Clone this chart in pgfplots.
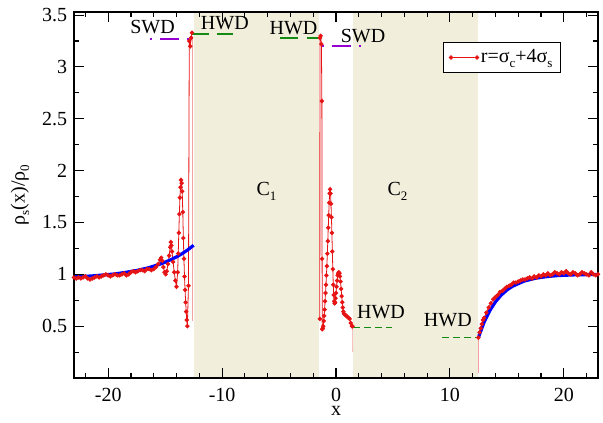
\documentclass[border=0pt]{standalone}
\usepackage{fontspec}
\setmainfont{Liberation Serif}
\usepackage{pgfplots}
\pgfplotsset{compat=1.18}
\definecolor{wall}{RGB}{241,238,219}
\definecolor{dred}{RGB}{230,20,20}
\definecolor{swd}{RGB}{150,0,210}
\definecolor{hwd}{RGB}{20,140,20}
\newcommand\lo[1]{\raisebox{-0.5ex}{\fontsize{13}{13}\selectfont #1}}
\pgfplotsset{legend image code/.code={\draw[#1] plot coordinates {(0pt,0pt) (26pt,0pt)};}}

\begin{document}
\fontsize{20}{24}\selectfont
\begin{tikzpicture}
\begin{axis}[
  scale only axis, width=524pt, height=366pt,
  xmin=-23, xmax=23, ymin=0, ymax=3.53,
  axis on top,
  axis line style={line width=1.3pt},
  every tick/.style={line width=1.1pt, black},
  major tick length=10pt, minor tick length=5pt,
  tick align=inside,
  xtick={-20,-10,0,10,20}, minor xtick={-22,-20,...,22},
  ytick={0.5,1,1.5,2,2.5,3,3.5},
  minor ytick={0.25,0.75,1.25,1.75,2.25,2.75,3.25},
  tick label style={font=\fontsize{20}{24}\selectfont},
  xticklabel style={yshift=-3pt},
  /pgf/number format/assume math mode=true,
  label style={font=\fontsize{20}{24}\selectfont},
  xlabel={x}, ylabel={ρ\lo{s}(x)/ρ\lo{0}},
  every axis x label/.style={at={(axis description cs:0.5,-0.09)}, anchor=center},
  every axis y label/.style={at={(axis description cs:-0.103,0.5)}, rotate=90, anchor=center},
  legend style={at={(0.704,0.918)}, anchor=north west, draw=black,
    line width=0.8pt, font=\fontsize{20}{24}\selectfont,
    inner xsep=6pt, inner ysep=5pt},
]
% confining walls
\addplot[fill=wall, draw=none, forget plot] coordinates {(-12.5,0) (-12.5,3.53) (-1.5,3.53) (-1.5,0)} -- cycle;
\addplot[fill=wall, draw=none, forget plot] coordinates {(1.5,0) (1.5,3.53) (12.5,3.53) (12.5,0)} -- cycle;

% wall-density levels
\addplot[swd, line width=2.4pt, dash pattern=on 2pt off 8pt on 19pt off 8pt, forget plot] coordinates {(-16.3,3.27) (-12.6,3.27)};
\addplot[swd, line width=2.4pt, dash pattern=on 2pt off 8pt on 19pt off 8pt, forget plot] coordinates {(-1.2,3.20) (2.2,3.20)};
\addplot[hwd, line width=2.4pt, dash pattern=on 17pt off 8pt, forget plot] coordinates {(-12.6,3.32) (-9.0,3.32)};
\addplot[hwd, line width=2.4pt, dash pattern=on 18pt off 9pt, forget plot] coordinates {(-4.9,3.28) (-1.6,3.28)};
\addplot[hwd, line width=1.2pt, dash pattern=on 7pt off 4pt, forget plot] coordinates {(1.5,0.49) (4.9,0.49)};
\addplot[hwd, line width=1.2pt, dash pattern=on 7pt off 4pt, forget plot] coordinates {(9.3,0.39) (12.5,0.39)};

% faint ends of the profile at the walls
\addplot[dred!40, line width=0.6pt, forget plot] coordinates {(-12.62,3.3) (-12.62,0.55)};
\addplot[dred!40, line width=0.6pt, forget plot] coordinates {(1.45,0.5) (1.47,0.25)};
\addplot[dred!40, line width=0.6pt, forget plot] coordinates {(12.5,0.39) (12.5,0.05)};

% density profile
\addplot[dred, line width=0.8pt, mark=*, mark size=1.8pt, mark options={fill=dred, draw=dred}]
coordinates {
(-23.0,0.97) (-22.8,0.96) (-22.6,0.97) (-22.4,0.96) (-22.2,0.97) (-22.0,0.98)
(-21.8,0.96) (-21.6,0.95) (-21.4,0.96) (-21.2,0.97) (-21.0,0.98) (-20.8,0.97)
(-20.6,0.98) (-20.4,0.99) (-20.2,1.00) (-20.0,0.99) (-19.8,0.98) (-19.6,0.99)
(-19.4,1.00) (-19.2,0.99) (-19.0,0.99) (-18.8,1.00) (-18.6,1.01) (-18.4,0.99)
(-18.2,1.00) (-18.0,1.02) (-17.8,1.03) (-17.6,1.02) (-17.4,1.03) (-17.2,1.04)
(-17.0,1.04) (-16.8,1.03) (-16.6,1.05) (-16.4,1.05) (-16.2,1.04) (-16.0,1.05)
(-15.8,1.07) (-15.6,1.10) (-15.45,1.14) (-15.35,1.16) (-15.25,1.13) (-15.15,1.07)
(-15.05,1.02) (-14.95,1.00) (-14.85,1.03) (-14.75,1.10) (-14.65,1.18) (-14.55,1.26)
(-14.5,1.31) (-14.45,1.28) (-14.4,1.22) (-14.3,1.12) (-14.2,1.02) (-14.1,0.94)
(-14.0,0.88) (-13.9,1.02) (-13.85,1.20) (-13.8,1.40) (-13.75,1.58) (-13.7,1.74)
(-13.65,1.84) (-13.6,1.91) (-13.55,1.88) (-13.5,1.80) (-13.45,1.60) (-13.4,1.35)
(-13.35,1.15) (-13.3,0.98) (-13.25,0.85) (-13.2,0.73) (-13.15,0.64) (-13.1,0.56)
(-13.05,0.50) (-12.95,0.89) (-12.88,3.25) (-12.8,3.2) (-12.72,3.28) (-12.65,3.33)
};
\addlegendentry{r=σ\lo{c}+4σ\lo{s}}
\addplot[dred, line width=0.8pt, mark=*, mark size=1.8pt, mark options={fill=dred, draw=dred}, forget plot]
coordinates {
(-1.42,0.57) (-1.41,3.28) (-1.35,3.30) (-1.28,3.22) (-1.24,2.67) (-1.22,1.15)
(-1.20,0.47) (-1.16,0.48) (-1.12,0.50) (-1.08,0.55) (-1.04,0.60) (-1.00,0.66)
(-0.96,0.74) (-0.92,0.82) (-0.88,0.90) (-0.84,0.99) (-0.80,1.08) (-0.76,1.20)
(-0.72,1.32) (-0.68,1.45) (-0.64,1.57) (-0.60,1.69) (-0.56,1.78) (-0.52,1.82)
(-0.48,1.78) (-0.44,1.68) (-0.40,1.55) (-0.36,1.40) (-0.32,1.22) (-0.28,1.05)
(-0.24,0.90) (-0.20,0.80) (-0.16,0.74) (-0.12,0.72) (-0.08,0.73) (-0.04,0.77)
(0.00,0.82) (0.05,0.88) (0.10,0.94) (0.15,0.99) (0.20,1.01) (0.25,1.02)
(0.30,1.01) (0.35,0.98) (0.40,0.93) (0.45,0.86) (0.50,0.79) (0.55,0.73)
(0.60,0.68) (0.65,0.64) (0.70,0.62) (0.80,0.61) (0.90,0.60) (1.00,0.59)
(1.10,0.58) (1.20,0.57) (1.30,0.53) (1.40,0.50) (1.45,0.50)
};
\addplot[dred, line width=0.8pt, mark=*, mark size=1.8pt, mark options={fill=dred, draw=dred}, forget plot]
coordinates {
(12.5,0.39) (12.6,0.44) (12.7,0.48) (12.8,0.52) (12.9,0.56) (13.0,0.58)
(13.2,0.63) (13.4,0.68) (13.6,0.72) (13.8,0.76) (14.0,0.78) (14.2,0.80)
(14.4,0.83) (14.6,0.84) (14.8,0.86) (15.0,0.88) (15.2,0.89) (15.4,0.90)
(15.6,0.92) (15.8,0.92) (16.0,0.93) (16.2,0.94) (16.4,0.95) (16.6,0.95)
(16.8,0.96) (17.0,0.97) (17.2,0.96) (17.4,0.98) (17.6,0.97) (17.8,0.99)
(18.0,0.98) (18.2,1.00) (18.4,0.99) (18.6,1.01) (18.8,0.99) (19.0,1.00)
(19.2,1.02) (19.4,1.01) (19.6,1.00) (19.8,1.02) (20.0,1.01) (20.2,1.03)
(20.4,1.01) (20.6,1.00) (20.8,1.02) (21.0,1.01) (21.2,0.99) (21.4,1.00)
(21.6,1.02) (21.8,1.01) (22.0,1.00) (22.2,0.99) (22.4,1.02) (22.6,1.00)
(22.8,0.99) (23.0,1.00)
};

% fits
\addplot[blue, line width=3.2pt, forget plot] coordinates {
(-23,0.976) (-22.5,0.978) (-21.5,0.984) (-20.5,0.993) (-19.5,1.003) (-18.5,1.018)
(-17.5,1.037) (-16.5,1.062) (-15.5,1.096) (-15,1.117) (-14.5,1.141) (-14,1.168)
(-13.5,1.200) (-13,1.237) (-12.5,1.280)
};
\addplot[blue, line width=3.2pt, forget plot] coordinates {
(12.5,0.39) (13,0.538) (13.5,0.650) (14,0.735) (14.5,0.799) (15,0.848)
(15.5,0.885) (16.5,0.934) (17.5,0.962) (18.5,0.978) (19.5,0.988) (21,0.995) (23,0.999)
};

% annotations
\node at (axis cs:-16.1,3.385) {SWD};
\node at (axis cs:-9.76,3.42) {HWD};
\node at (axis cs:-3.73,3.37) {HWD};
\node at (axis cs:2.37,3.30) {SWD};
\node at (axis cs:3.95,0.635) {HWD};
\node at (axis cs:9.82,0.5625) {HWD};
\node at (axis cs:-6.1,1.8) {C\lo{1}};
\node at (axis cs:5.4,1.8) {C\lo{2}};
\end{axis}
\path (current axis.south west) ++(-74pt,-42pt) rectangle ([shift={(5pt,12pt)}]current axis.north east);
\end{tikzpicture}
\end{document}
